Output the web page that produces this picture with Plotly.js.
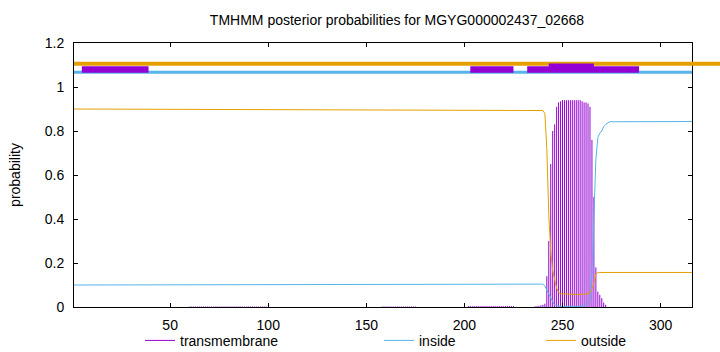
<!DOCTYPE html>
<html><head><meta charset="utf-8">
<script src="https://cdn.plot.ly/plotly-3.0.1.min.js"></script>
<style>html,body{margin:0;padding:0;background:#fff}#chart{width:720px;height:352px}</style>
</head><body><div id="chart"></div>
<script>
const seqLength = 316;
const xTickStep = 50;

// posterior probability of "outside" (orange)
const outsideX = [1, 50, 100, 150, 200, 240, 241, 242, 243, 244, 245, 246, 247, 248, 249, 258, 262, 263, 264, 265, 266, 267, 268, 269, 316];
const outsideY = [0.900, 0.899, 0.898, 0.897, 0.895, 0.893, 0.880, 0.720, 0.420, 0.250, 0.165, 0.130, 0.085, 0.066, 0.060, 0.057, 0.060, 0.060, 0.065, 0.080, 0.110, 0.150, 0.156, 0.157, 0.157];

// posterior probability of "inside" (blue)
const insideX = [1, 100, 200, 240, 241, 242, 243, 244, 245, 246, 247, 248, 260, 261, 262, 263, 264, 265, 266, 267, 268, 269, 270, 271, 272, 273, 274, 316];
const insideY = [0.100, 0.101, 0.103, 0.104, 0.095, 0.077, 0.055, 0.035, 0.024, 0.010, 0.005, 0.003, 0.003, 0.006, 0.010, 0.020, 0.030, 0.150, 0.390, 0.670, 0.770, 0.790, 0.800, 0.820, 0.830, 0.838, 0.842, 0.843];

// posterior probability of "transmembrane" (purple impulses), non-zero residues only
const tmResidues = [60,61,62,63,64,65,66,67,68,69,70,71,72,73,74,75,76,77,78,79,80,81,82,83,84,85,86,87,88,89,90,91,92,93,94,95,96,97,98,99,
  158,159,160,161,162,163,164,165,166,167,168,169,170,171,172,173,174,175,
  202,203,204,205,206,207,208,209,210,211,212,213,214,215,216,217,218,219,220,221,222,223,224,225,
  236,237,238,239,240,241,242,243,244,245,246,247,248,249,250,251,252,253,254,255,256,257,258,259,260,261,262,263,264,265,266,267,268,269,270,271,272];
const tmValues = [0.002,0.002,0.002,0.002,0.002,0.002,0.002,0.002,0.002,0.002,0.002,0.002,0.002,0.002,0.002,0.002,0.002,0.002,0.002,0.002,0.002,0.002,0.002,0.002,0.002,0.002,0.002,0.002,0.002,0.002,0.002,0.002,0.002,0.002,0.002,0.002,0.002,0.002,0.002,0.002,
  0.002,0.002,0.002,0.002,0.002,0.002,0.002,0.002,0.002,0.002,0.002,0.002,0.002,0.002,0.002,0.002,0.002,0.002,
  0.004,0.004,0.004,0.004,0.004,0.004,0.004,0.004,0.004,0.004,0.004,0.004,0.004,0.004,0.004,0.004,0.004,0.004,0.004,0.004,0.004,0.004,0.004,0.004,
  0.003,0.004,0.005,0.008,0.010,0.015,0.140,0.300,0.650,0.800,0.830,0.910,0.930,0.935,0.940,0.940,0.940,0.940,0.940,0.940,0.940,0.940,0.940,0.940,0.935,0.930,0.930,0.925,0.910,0.760,0.500,0.180,0.070,0.055,0.040,0.020,0.010];

// predicted topology bands drawn above the curves
const topOutsideX = [1, 331];
const topOutsideLevel = 1.106;
const topInsideX = [1, 316];
const topInsideLevel = 1.067;
const topTmStart = [5, 203, 232];
const topTmEnd = [39, 225, 289];
const topTmLevel = 1.079;
const topTmCoreStart = [243];
const topTmCoreEnd = [266];
const topTmCoreLevel = 1.088;

const COL_TM = '#9400d3', COL_IN = '#56b4e9', COL_OUT = '#e69f00';
const FONT = 'Liberation Sans, Arial, Helvetica, sans-serif';

// impulses
const impX = [], impY = [];
tmResidues.forEach((r, i) => { impX.push(r, r, null); impY.push(0, tmValues[i], null); });

function segs(starts, ends, level) {
  const x = [], y = [];
  starts.forEach((s, i) => { x.push(s, ends[i], null); y.push(level, level, null); });
  return {x, y};
}
const tmSeg = segs(topTmStart, topTmEnd, topTmLevel);
const tmCore = segs(topTmCoreStart, topTmCoreEnd, topTmCoreLevel);

const marginL = 74, fullW = 720, plotRight = 692;
const D = (plotRight - marginL) / (fullW - marginL);
const xRange = [1, seqLength];
const x2Range = [1, 1 + (seqLength - 1) / D];

const traces = [
  {x: impX, y: impY, type: 'scatter', mode: 'lines', name: 'transmembrane', line: {color: COL_TM, width: 1}, legend: 'legend', hoverinfo: 'skip'},
  {x: insideX, y: insideY, type: 'scatter', mode: 'lines', name: 'inside', line: {color: COL_IN, width: 1}, legend: 'legend2'},
  {x: outsideX, y: outsideY, type: 'scatter', mode: 'lines', name: 'outside', line: {color: COL_OUT, width: 1}, legend: 'legend3'},
  {x: topOutsideX, y: [topOutsideLevel, topOutsideLevel], xaxis: 'x2', yaxis: 'y2', type: 'scatter', mode: 'lines', line: {color: COL_OUT, width: 4}, showlegend: false},
  {x: topInsideX, y: [topInsideLevel, topInsideLevel], xaxis: 'x2', yaxis: 'y2', type: 'scatter', mode: 'lines', line: {color: COL_IN, width: 3}, showlegend: false},
  {x: tmSeg.x, y: tmSeg.y, xaxis: 'x2', yaxis: 'y2', type: 'scatter', mode: 'lines', line: {color: COL_TM, width: 6.5}, showlegend: false},
  {x: tmCore.x, y: tmCore.y, xaxis: 'x2', yaxis: 'y2', type: 'scatter', mode: 'lines', line: {color: COL_TM, width: 8.5}, showlegend: false}
];

const axisCommon = {
  showline: true, linecolor: '#000', linewidth: 1, mirror: 'ticks',
  ticks: 'inside', ticklen: 4, tickcolor: '#000', showgrid: false, zeroline: false,
  tickfont: {family: FONT, size: 14, color: '#000'}
};
const legendCommon = {orientation: 'h', yanchor: 'middle', y: -0.128, xanchor: 'left', bgcolor: 'rgba(0,0,0,0)',
  font: {family: FONT, size: 14, color: '#000'}};
function lx(px) { return (px - marginL) / (fullW - marginL); }

const layout = {
  width: 720, height: 352,
  margin: {l: marginL, r: 0, t: 43, b: 45, autoexpand: false},
  paper_bgcolor: '#fff', plot_bgcolor: 'rgba(0,0,0,0)',
  font: {family: FONT, size: 14, color: '#000'},
  title: {text: 'TMHMM posterior probabilities for MGYG000002437_02668', font: {family: FONT, size: 14, color: '#000'},
          xref: 'paper', x: 0.5, xanchor: 'center', yref: 'container', y: 0.943, yanchor: 'middle'},
  xaxis: Object.assign({}, axisCommon, {domain: [0, D], range: xRange, tick0: 0, dtick: xTickStep, anchor: 'y', ticklabelstandoff: 5}),
  yaxis: Object.assign({}, axisCommon, {domain: [0, 1], range: [0, 1.2], tick0: 0, dtick: 0.2, anchor: 'x', ticklabelstandoff: 6,
          title: {text: 'probability', font: {family: FONT, size: 14, color: '#000'}, standoff: 20}}),
  xaxis2: {domain: [0, 1], range: x2Range, visible: false, anchor: 'y2', fixedrange: true},
  yaxis2: {domain: [0, 1], range: [0, 1.2], visible: false, anchor: 'x2', fixedrange: true},
  legend: Object.assign({}, legendCommon, {x: lx(140)}),
  legend2: Object.assign({}, legendCommon, {x: lx(379)}),
  legend3: Object.assign({}, legendCommon, {x: lx(541)}),
  showlegend: true
};

Plotly.newPlot('chart', traces, layout, {staticPlot: true, displayModeBar: false});
</script>
</body></html>
